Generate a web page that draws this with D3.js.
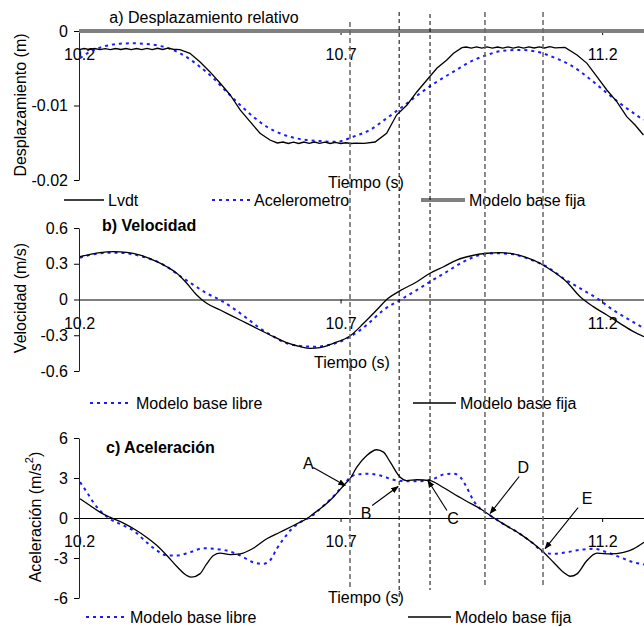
<html>
<head>
<script src="https://d3js.org/d3.v7.min.js"></script>
<style>
body { margin: 0; background: #fff; }
text { font-family: "Liberation Sans", Arial, sans-serif; font-size: 16px; fill: #000; }
</style>
</head>
<body>
<svg width="644" height="627"></svg>
<script>
// x axis (time, s)
var timeTicks = [10.2, 10.7, 11.2];
var timeLabels = ["10.2", "10.7", "11.2"];

// a) Desplazamiento relativo (m)
var dispTicks = [0, -0.01, -0.02];
var dispLabels = ["0", "-0.01", "-0.02"];
var lvdtT = [10.200, 10.210, 10.220, 10.230, 10.240, 10.250, 10.260, 10.270, 10.280, 10.290,
  10.300, 10.310, 10.320, 10.330, 10.340, 10.350, 10.360, 10.370, 10.380, 10.393,
  10.412, 10.431, 10.450, 10.470, 10.489, 10.508, 10.527, 10.546, 10.565,
  10.579, 10.590, 10.600, 10.610, 10.620, 10.630, 10.640, 10.650, 10.660, 10.670,
  10.680, 10.690, 10.700, 10.710, 10.720, 10.730, 10.745, 10.766,
  10.788, 10.807, 10.827, 10.846, 10.865, 10.884, 10.903, 10.916,
  10.932, 10.940, 10.950, 10.960, 10.970, 10.980, 10.990, 11.000, 11.010, 11.020,
  11.030, 11.040, 11.050, 11.060, 11.070, 11.080, 11.090, 11.100, 11.110, 11.129,
  11.152, 11.171, 11.190, 11.209, 11.228, 11.247, 11.263, 11.279];
var lvdtV = [-0.00250, -0.00235, -0.00250, -0.00235, -0.00250, -0.00237, -0.00250, -0.00235, -0.00248, -0.00235,
  -0.00250, -0.00235, -0.00250, -0.00233, -0.00250, -0.00232, -0.00248, -0.00230, -0.00245, -0.00250,
  -0.00299, -0.00412, -0.00546, -0.00702, -0.00859, -0.01060, -0.01217, -0.01373, -0.01463,
  -0.01503, -0.01490, -0.01510, -0.01492, -0.01510, -0.01490, -0.01508, -0.01490, -0.01508, -0.01492,
  -0.01510, -0.01495, -0.01510, -0.01500, -0.01510, -0.01505, -0.01508, -0.01490,
  -0.01373, -0.01128, -0.00993, -0.00815, -0.00658, -0.00501, -0.00389, -0.00299,
  -0.00224, -0.00215, -0.00230, -0.00213, -0.00230, -0.00213, -0.00230, -0.00215, -0.00230, -0.00213,
  -0.00230, -0.00213, -0.00230, -0.00213, -0.00228, -0.00212, -0.00228, -0.00210, -0.00226, -0.00220,
  -0.00322, -0.00434, -0.00613, -0.00792, -0.00949, -0.01150, -0.01262, -0.01396];
var acelT = [10.202, 10.221, 10.240, 10.259, 10.278, 10.303, 10.329, 10.355, 10.374, 10.393,
  10.412, 10.431, 10.457, 10.482, 10.508, 10.533, 10.559, 10.584, 10.610, 10.635,
  10.661, 10.680, 10.693, 10.724, 10.756, 10.788, 10.820, 10.852, 10.884, 10.916,
  10.948, 10.980, 11.011, 11.043, 11.075, 11.107, 11.139, 11.171, 11.202, 11.234, 11.279];
var acelV = [-0.00366, -0.00278, -0.00224, -0.00188, -0.00170, -0.00165, -0.00174, -0.00201, -0.00238, -0.00299,
  -0.00380, -0.00479, -0.00635, -0.00815, -0.00993, -0.01150, -0.01285, -0.01373, -0.01432, -0.01463,
  -0.01477, -0.01486, -0.01486, -0.01419, -0.01329, -0.01172, -0.01007, -0.00836, -0.00681, -0.00546,
  -0.00412, -0.00322, -0.00264, -0.00255, -0.00278, -0.00353, -0.00456, -0.00613, -0.00792, -0.00970, -0.01195];
var fijaDispT = [10.2, 11.28];
var fijaDispV = [0, 0];

// b) Velocidad (m/s)
var velTicks = [0.6, 0.3, 0, -0.3, -0.6];
var velLabels = ["0.6", "0.3", "0", "-0.3", "-0.6"];
var velLibreT = [10.202, 10.221, 10.240, 10.266, 10.291, 10.317, 10.342, 10.368, 10.393, 10.419,
  10.444, 10.470, 10.495, 10.521, 10.546, 10.572, 10.597, 10.623, 10.648, 10.686,
  10.718, 10.750, 10.782, 10.814, 10.846, 10.871, 10.903, 10.935, 10.967, 10.999,
  11.030, 11.062, 11.094, 11.126, 11.158, 11.190, 11.221, 11.253, 11.280];
var velLibreV = [0.351, 0.373, 0.388, 0.393, 0.388, 0.365, 0.331, 0.275, 0.197, 0.122,
  0.052, -0.004, -0.074, -0.158, -0.242, -0.312, -0.368, -0.390, -0.396, -0.373,
  -0.312, -0.214, -0.088, -0.004, 0.080, 0.149, 0.233, 0.317, 0.373, 0.388,
  0.379, 0.337, 0.275, 0.178, 0.094, 0.010, -0.088, -0.172, -0.242];
var velFijaT = [10.202, 10.221, 10.240, 10.266, 10.291, 10.317, 10.342, 10.368, 10.387, 10.406,
  10.425, 10.444, 10.470, 10.495, 10.521, 10.546, 10.572, 10.597, 10.623, 10.642,
  10.661, 10.686, 10.718, 10.744, 10.769, 10.791, 10.814, 10.846, 10.871, 10.897,
  10.922, 10.948, 10.980, 11.005, 11.030, 11.056, 11.081, 11.107, 11.132, 11.158,
  11.183, 11.209, 11.234, 11.260, 11.280];
var velFijaV = [0.359, 0.379, 0.393, 0.401, 0.396, 0.373, 0.331, 0.275, 0.220, 0.136,
  0.038, -0.032, -0.088, -0.144, -0.200, -0.256, -0.312, -0.362, -0.396, -0.410,
  -0.404, -0.368, -0.306, -0.200, -0.088, 0.010, 0.074, 0.149, 0.220, 0.275,
  0.331, 0.365, 0.388, 0.393, 0.382, 0.351, 0.304, 0.233, 0.149, 0.023,
  -0.060, -0.130, -0.200, -0.270, -0.312];

// c) Aceleración (m/s2)
var accTicks = [6, 3, 0, -3, -6];
var accLabels = ["6", "3", "0", "-3", "-6"];
var accLibreT = [10.202, 10.215, 10.227, 10.240, 10.259, 10.285, 10.304, 10.329, 10.349, 10.368,
  10.387, 10.412, 10.438, 10.457, 10.482, 10.508, 10.533, 10.552, 10.565, 10.578,
  10.591, 10.610, 10.629, 10.642, 10.661, 10.686, 10.705, 10.724, 10.750, 10.776,
  10.801, 10.827, 10.852, 10.878, 10.897, 10.916, 10.929, 10.941, 10.954, 10.967,
  10.986, 11.011, 11.043, 11.069, 11.088, 11.107, 11.132, 11.158, 11.183, 11.209,
  11.234, 11.260, 11.280];
var accLibreV = [2.69, 1.94, 1.19, 0.56, -0.06, -0.56, -0.94, -1.82, -2.44, -2.81,
  -2.81, -2.57, -2.27, -2.31, -2.44, -2.81, -3.32, -3.44, -3.19, -2.31,
  -1.56, -0.69, -0.19, 0.06, 0.69, 1.61, 2.44, 3.19, 3.32, 3.19,
  2.87, 2.76, 2.76, 2.94, 3.26, 3.32, 3.06, 2.31, 1.31, 0.69,
  0.19, -0.44, -1.19, -1.94, -2.57, -2.69, -2.57, -2.39, -2.31, -2.57,
  -2.94, -3.32, -3.49];
var accFijaT = [10.202, 10.221, 10.240, 10.259, 10.285, 10.310, 10.329, 10.349, 10.368, 10.387,
  10.406, 10.415, 10.431, 10.444, 10.457, 10.470, 10.489, 10.508, 10.533, 10.559,
  10.584, 10.610, 10.635, 10.648, 10.661, 10.686, 10.709, 10.718, 10.731, 10.750,
  10.769, 10.782, 10.795, 10.814, 10.826, 10.846, 10.871, 10.890, 10.916, 10.941,
  10.967, 10.986, 11.011, 11.043, 11.069, 11.088, 11.107, 11.126, 11.139, 11.152,
  11.171, 11.190, 11.215, 11.241, 11.260, 11.280];
var accFijaV = [1.44, 0.94, 0.44, 0.06, -0.39, -0.94, -1.44, -2.06, -2.81, -3.64,
  -4.31, -4.44, -4.19, -3.44, -2.81, -2.64, -2.74, -2.69, -2.27, -1.56,
  -1.07, -0.56, -0.06, 0.32, 0.69, 1.56, 2.57, 2.94, 3.81, 4.69,
  5.12, 4.94, 4.19, 3.06, 2.81, 2.87, 2.81, 2.44, 1.82, 1.26,
  0.69, 0.19, -0.44, -1.19, -1.94, -2.57, -3.32, -4.07, -4.37, -4.19,
  -3.19, -2.64, -2.69, -2.57, -2.31, -1.82];

// marked instants A..E
var markLabels = ["A", "B", "C", "D", "E"];
var markT = [10.718, 10.812, 10.871, 10.976, 11.087];
var markTipT = [10.709, 10.810, 10.867, 10.986, 11.091];
var markTipV = [2.44, 2.36, 2.81, 0.34, -2.29];

var svg = d3.select("svg");
var zip = function(t, v) { return t.map(function(d, i) { return [d, v[i]]; }); };

var x = d3.scaleLinear().domain([10.2, 11.28]).range([79, 644]);
var yA = d3.scaleLinear().domain([-0.02, 0]).range([180, 31]);
var yB = d3.scaleLinear().domain([-0.6, 0.6]).range([371, 228]);
var yC = d3.scaleLinear().domain([-6, 6]).range([598, 438]);

var defs = svg.append("defs");
defs.append("marker").attr("id", "arr")
    .attr("viewBox", "0 0 10 10").attr("refX", 9).attr("refY", 5)
    .attr("markerWidth", 7).attr("markerHeight", 7).attr("orient", "auto")
  .append("path").attr("d", "M0,1L10,5L0,9Z").attr("fill", "#000");

var styles = {
  lvdt: { stroke: "#000", width: 1.3, dash: null },
  blue: { stroke: "#1a1aff", width: 2, dash: "3,4" },
  fija: { stroke: "#000", width: 1.3, dash: null },
  gris: { stroke: "#808080", width: 4, dash: null }
};

function drawLine(g, data, y, st, curve) {
  g.append("path")
    .datum(data)
    .attr("fill", "none")
    .attr("stroke", st.stroke)
    .attr("stroke-width", st.width)
    .attr("stroke-dasharray", st.dash)
    .attr("d", d3.line().curve(curve).x(function(d) { return x(d[0]); }).y(function(d) { return y(d[1]); }));
}

function xAxis(y0, label, lx, ly) {
  var g = svg.append("g").attr("transform", "translate(0," + y0 + ")")
    .call(d3.axisBottom(x).tickValues(timeTicks).tickFormat(function(d, i) { return timeLabels[i]; })
      .tickSize(4).tickSizeOuter(0).tickPadding(14));
  g.select(".domain").attr("stroke", "#000");
  g.selectAll("text").attr("font-size", 16).attr("font-family", null);
  svg.append("text").attr("x", lx).attr("y", ly).attr("text-anchor", "middle")
    .attr("dominant-baseline", "central").text(label);
}

function yAxis(y, ticks, labels) {
  var g = svg.append("g").attr("transform", "translate(79,0)")
    .call(d3.axisLeft(y).tickValues(ticks).tickFormat(function(d, i) { return labels[i]; })
      .tickSize(5).tickSizeOuter(0).tickPadding(6));
  g.selectAll("text").attr("font-size", 16).attr("font-family", null);
  g.select(".domain").attr("stroke", "#222");
}

function yTitle(cx, cy, txt, sup) {
  var t = svg.append("text").attr("transform", "translate(" + cx + "," + cy + ") rotate(-90)")
    .attr("text-anchor", "middle").attr("dominant-baseline", "central").text(txt);
  if (sup) {
    t.append("tspan").attr("baseline-shift", "super").attr("font-size", 11).text(sup);
    t.append("tspan").text(")");
  }
}

function legendItem(x1, x2, y0, st, label) {
  svg.append("line").attr("x1", x1).attr("x2", x2).attr("y1", y0).attr("y2", y0)
    .attr("stroke", st.stroke).attr("stroke-width", st.width).attr("stroke-dasharray", st.dash);
  svg.append("text").attr("x", x2 + 4).attr("y", y0).attr("dominant-baseline", "central").text(label);
}

// ---- panel a
xAxis(31, "Tiempo (s)", 366, 182);
yAxis(yA, dispTicks, dispLabels);
yTitle(20, 105, "Desplazamiento (m)");
svg.append("text").attr("x", 204).attr("y", 17).attr("text-anchor", "middle")
  .attr("dominant-baseline", "central").text("a) Desplazamiento relativo");
var ga = svg.append("g");
drawLine(ga, zip(fijaDispT, fijaDispV), yA, styles.gris, d3.curveLinear);
drawLine(ga, zip(acelT, acelV), yA, styles.blue, d3.curveMonotoneX);
drawLine(ga, zip(lvdtT, lvdtV), yA, styles.lvdt, d3.curveLinear);
legendItem(64, 104, 200, styles.lvdt, "Lvdt");
legendItem(212, 250, 200, styles.blue, "Acelerometro");
legendItem(421, 465, 200, styles.gris, "Modelo base fija");

// ---- panel b
xAxis(yB(0), "Tiempo (s)", 352, 362);
yAxis(yB, velTicks, velLabels);
yTitle(20, 298, "Velocidad (m/s)");
svg.append("text").attr("x", 102).attr("y", 225).attr("font-weight", "bold")
  .attr("dominant-baseline", "central").text("b) Velocidad");
var gb = svg.append("g");
drawLine(gb, zip(velLibreT, velLibreV), yB, styles.blue, d3.curveMonotoneX);
drawLine(gb, zip(velFijaT, velFijaV), yB, styles.fija, d3.curveMonotoneX);
legendItem(90, 132, 403, styles.blue, "Modelo base libre");
legendItem(413, 456, 403, styles.fija, "Modelo base fija");

// ---- panel c
xAxis(yC(0), "Tiempo (s)", 366, 597);
yAxis(yC, accTicks, accLabels);
yTitle(35, 517, "Aceleración (m/s", "2");
svg.append("text").attr("x", 106).attr("y", 447).attr("font-weight", "bold")
  .attr("dominant-baseline", "central").text("c) Aceleración");
var gc = svg.append("g");
drawLine(gc, zip(accLibreT, accLibreV), yC, styles.blue, d3.curveMonotoneX);
drawLine(gc, zip(accFijaT, accFijaV), yC, styles.fija, d3.curveMonotoneX);
legendItem(86, 126, 617, styles.blue, "Modelo base libre");
legendItem(408, 451, 617, styles.fija, "Modelo base fija");

// ---- dashed markers
var lineTop = [22, 12, 14, 12, 12];
var lineBot = [590, 600, 590, 588, 588];
var lineCol = ["#666", "#000", "#000", "#666", "#666"];
var lineW = [1.5, 1, 1, 1.5, 1.5];
var lineDash = ["5,3", "4,3", "4,3", "5,3", "5,3"];
svg.append("g").selectAll("line").data(markT).join("line")
  .attr("x1", function(d) { return x(d); }).attr("x2", function(d) { return x(d); })
  .attr("y1", function(d, i) { return lineTop[i]; }).attr("y2", function(d, i) { return lineBot[i]; })
  .attr("stroke", function(d, i) { return lineCol[i]; })
  .attr("stroke-width", function(d, i) { return lineW[i]; })
  .attr("stroke-dasharray", function(d, i) { return lineDash[i]; });

// ---- annotations
var textOff = [[-37, -22], [-32, 27], [25, 38], [33, -46], [42, -50]];
var tailOff = [[-32, -18], [-26, 19], [19, 30], [29, -37], [33, -41]];
var ann = svg.append("g");
markLabels.forEach(function(lab, i) {
  var px = x(markTipT[i]), py = yC(markTipV[i]);
  ann.append("line").attr("x1", px + tailOff[i][0]).attr("y1", py + tailOff[i][1])
    .attr("x2", px).attr("y2", py).attr("stroke", "#000").attr("stroke-width", 1.1)
    .attr("marker-end", "url(#arr)");
  ann.append("text").attr("x", px + textOff[i][0]).attr("y", py + textOff[i][1])
    .attr("text-anchor", "middle").attr("dominant-baseline", "central").text(lab);
});
</script>
</body>
</html>
